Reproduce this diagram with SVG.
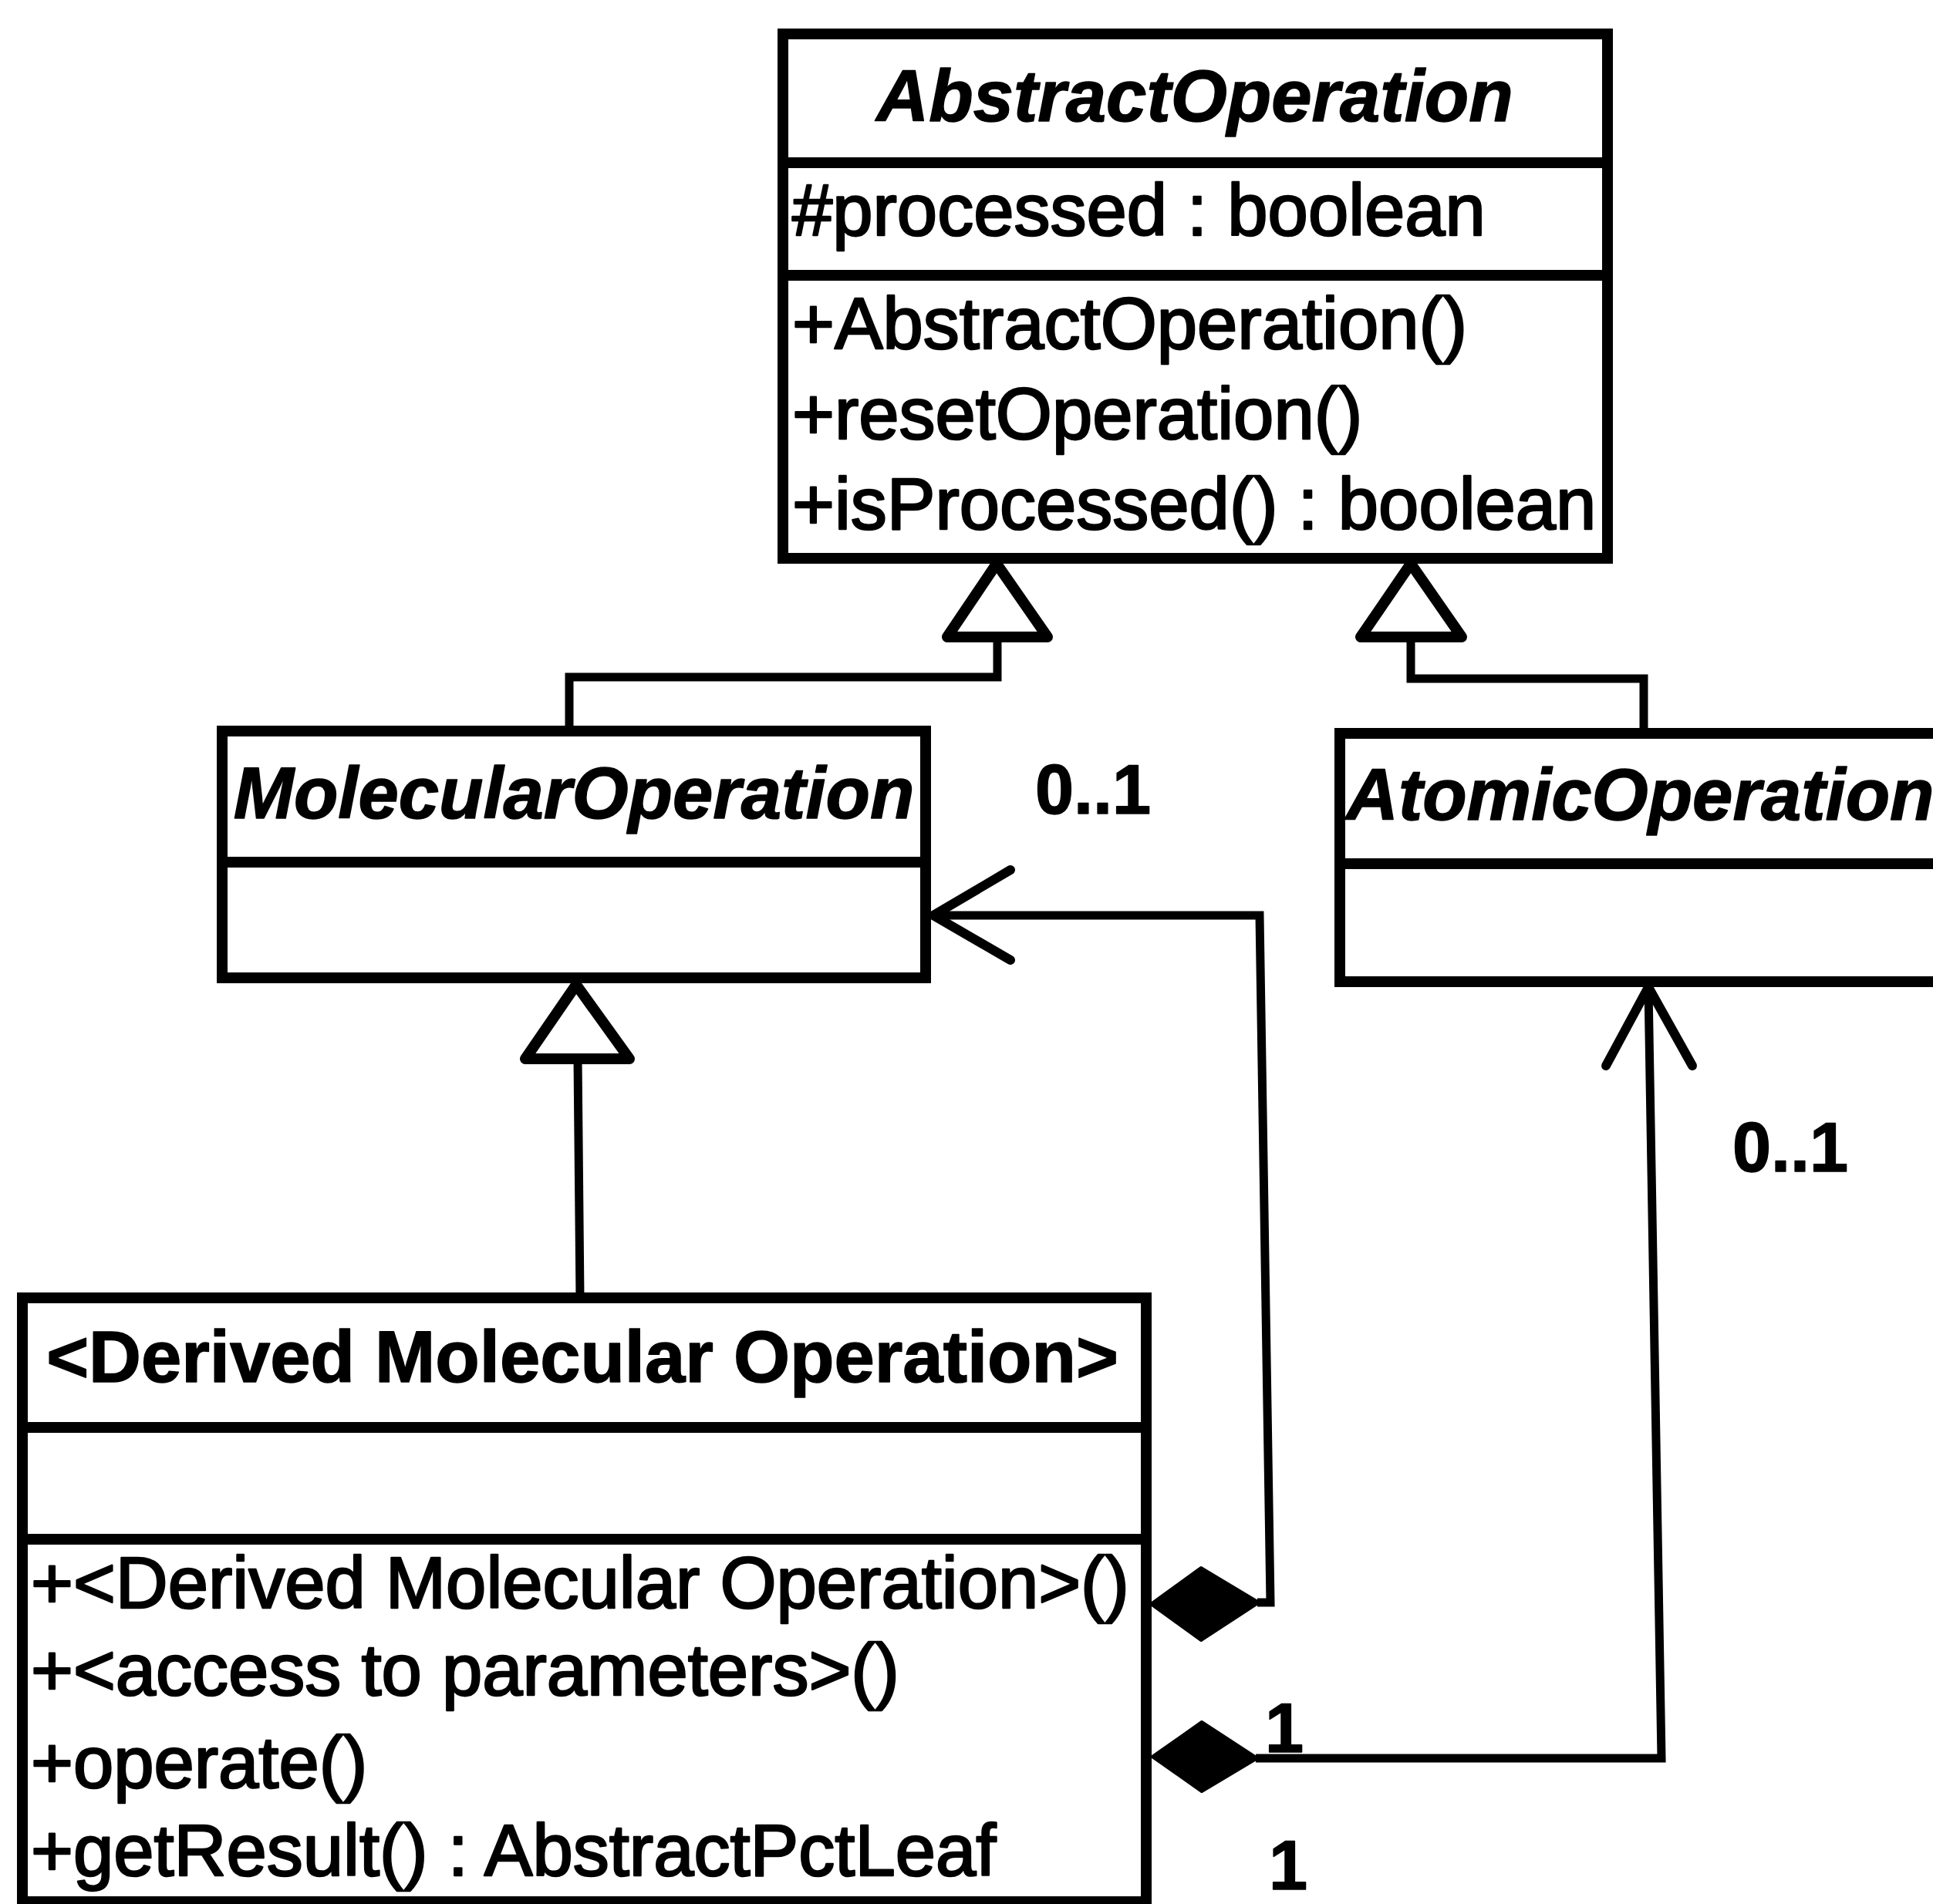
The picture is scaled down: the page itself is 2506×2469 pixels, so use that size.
<svg xmlns="http://www.w3.org/2000/svg" width="2506" height="2469" viewBox="0 0 2506 2469">
  <style>
    .box { fill: #fff; stroke: #000; stroke-width: 14; stroke-linejoin: miter; }
    .div { stroke: #000; stroke-width: 14; fill: none; }
    .edge { stroke: #000; stroke-width: 11; fill: none; stroke-linejoin: miter; }
    .gen { fill: #fff; stroke: #000; stroke-width: 14; stroke-linejoin: round; }
    .comp { fill: #000; stroke: #000; stroke-width: 4; stroke-linejoin: round; }
    .open { stroke: #000; stroke-width: 12; fill: none; stroke-linecap: round; stroke-linejoin: round; }
    text { font-family: "Liberation Sans", Arial, sans-serif; font-size: 94px; fill: #000; stroke: #000; stroke-width: 2.5; stroke-linejoin: round; }
    .abstract { font-weight: bold; font-style: italic; stroke-width: 1.5; }
    .title { font-weight: bold; stroke-width: 1.5; }
    .mult { font-weight: bold; font-size: 90px; stroke-width: 1.5; }
  </style>

  <!-- connectors -->
  <g id="connectors">
    <!-- MolecularOperation extends AbstractOperation -->
    <polyline class="edge" points="1293,826 1293,878 738,878 738,948"/>
    <polygon class="gen" points="1292,731 1228,826 1358,826"/>
    <!-- AtomicOperation extends AbstractOperation -->
    <polyline class="edge" points="1829,826 1829,880 2131,880 2131,951"/>
    <polygon class="gen" points="1829,731 1764,826 1895,826"/>
    <!-- Derived Molecular Operation extends MolecularOperation -->
    <line class="edge" x1="749" y1="1373" x2="752" y2="1683"/>
    <polygon class="gen" points="747,1277 681,1373 816,1373"/>
    <!-- composition to MolecularOperation -->
    <polyline class="edge" points="1630,2078 1647,2078 1633,1187 1210,1187"/>
    <polyline class="open" points="1310,1128 1210,1187 1310,1245"/>
    <polygon class="comp" points="1492,2080 1557,2033 1632,2078 1557,2127"/>
    <!-- composition to AtomicOperation -->
    <polyline class="edge" points="1628,2280 2154,2280 2137,1280"/>
    <polyline class="open" points="2082,1382 2137,1280 2194,1382"/>
    <polygon class="comp" points="1494,2278 1558,2233 1630,2280 1558,2323"/>
    <!-- multiplicities -->
    <text class="mult" x="1342" y="1055">0..1</text>
    <text class="mult" x="2246" y="1519">0..1</text>
    <text class="mult" x="1640" y="2272">1</text>
    <text class="mult" x="1645" y="2450">1</text>
  </g>

  <!-- AbstractOperation -->
  <g id="AbstractOperation">
    <rect class="box" x="1015" y="44" width="1069" height="680"/>
    <line class="div" x1="1015" y1="211" x2="2084" y2="211"/>
    <line class="div" x1="1015" y1="357" x2="2084" y2="357"/>
    <text class="abstract" x="1549" y="157" text-anchor="middle">AbstractOperation</text>
    <text x="1027" y="305">#processed : boolean</text>
    <text x="1027" y="452">+AbstractOperation()</text>
    <text x="1027" y="569">+resetOperation()</text>
    <text x="1027" y="686">+isProcessed() : boolean</text>
  </g>

  <!-- MolecularOperation -->
  <g id="MolecularOperation">
    <rect class="box" x="288" y="948" width="912" height="320"/>
    <line class="div" x1="288" y1="1118" x2="1200" y2="1118"/>
    <text class="abstract" x="744" y="1061" text-anchor="middle">MolecularOperation</text>
  </g>

  <!-- AtomicOperation -->
  <g id="AtomicOperation">
    <rect class="box" x="1737" y="951" width="840" height="322"/>
    <line class="div" x1="1737" y1="1120" x2="2577" y2="1120"/>
    <text class="abstract" x="1745" y="1063">AtomicOperation</text>
  </g>

  <!-- Derived Molecular Operation -->
  <g id="DerivedMolecularOperation">
    <rect class="box" x="29" y="1683" width="1457" height="783"/>
    <line class="div" x1="29" y1="1851" x2="1486" y2="1851"/>
    <line class="div" x1="29" y1="1996" x2="1486" y2="1996"/>
    <text class="title" x="755" y="1792" text-anchor="middle">&lt;Derived Molecular Operation&gt;</text>
    <text x="40" y="2085">+&lt;Derived Molecular Operation&gt;()</text>
    <text x="40" y="2198">+&lt;access to parameters&gt;()</text>
    <text x="40" y="2318">+operate()</text>
    <text x="40" y="2432">+getResult() : AbstractPctLeaf</text>
  </g>
</svg>
